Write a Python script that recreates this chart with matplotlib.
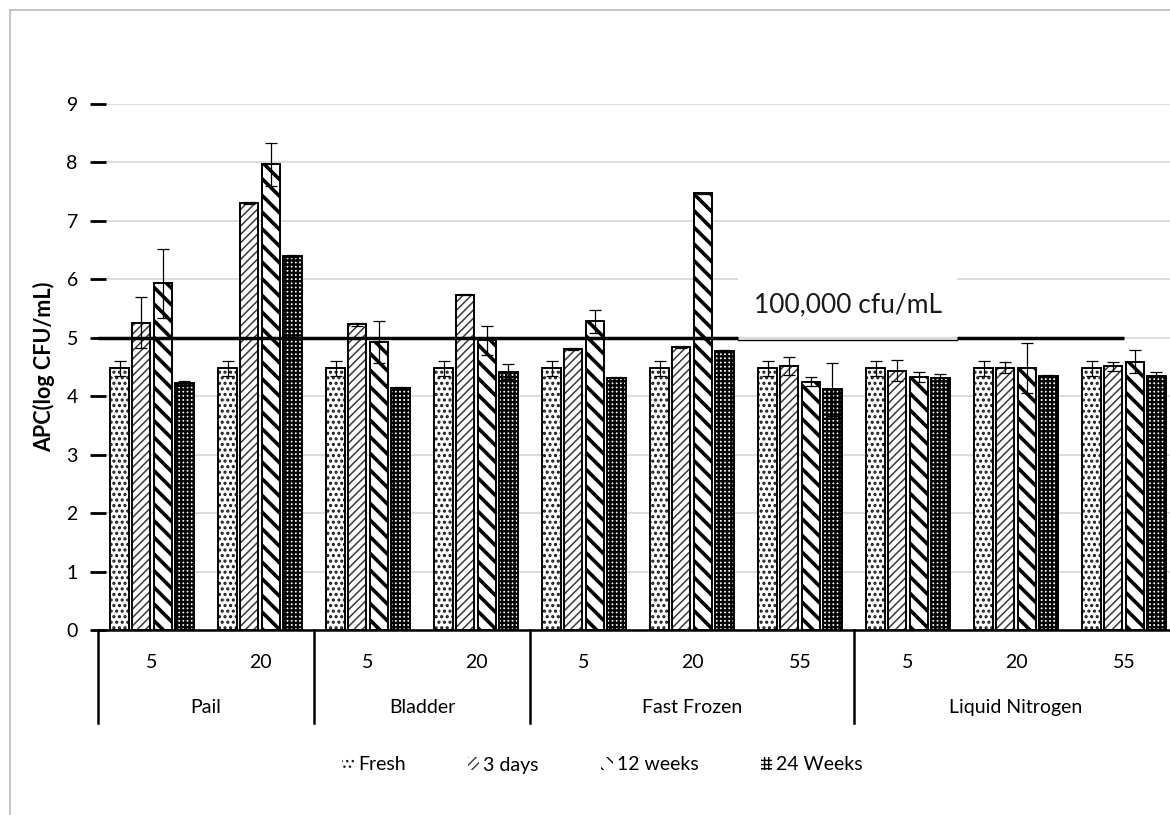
import matplotlib
matplotlib.use('Agg')
import matplotlib.pyplot as plt
from matplotlib.patches import Patch, Rectangle
from matplotlib.lines import Line2D
import matplotlib.transforms as mtransforms

# ---- data ----
sub_labels = ['5', '20', '5', '20', '5', '20', '55', '5', '20', '55']
groups = ['Pail', 'Bladder', 'Fast Frozen', 'Liquid Nitrogen']
group_sizes = [2, 2, 3, 3]
series = ['Fresh', '3 days', '12 weeks', '24 Weeks']

fresh = [4.48, 4.48, 4.48, 4.48, 4.48, 4.48, 4.48, 4.48, 4.48, 4.48]
fresh_err = [0.13, 0.13, 0.13, 0.13, 0.13, 0.13, 0.13, 0.13, 0.13, 0.13]
days3 = [5.26, 7.31, 5.23, 5.74, 4.81, 4.84, 4.52, 4.44, 4.49, 4.51]
days3_err = [0.43, 0.02, 0.02, 0.01, 0.02, 0.02, 0.15, 0.18, 0.09, 0.08]
wk12 = [5.93, 7.97, 4.93, 4.96, 5.28, 7.47, 4.25, 4.33, 4.48, 4.59]
wk12_err = [0.59, 0.37, 0.36, 0.25, 0.19, 0.01, 0.08, 0.09, 0.43, 0.20]
wk24 = [4.22, 6.40, 4.14, 4.42, 4.32, 4.77, 4.12, 4.32, 4.35, 4.35]
wk24_err = [0.04, 0.02, 0.01, 0.13, 0.01, 0.02, 0.45, 0.06, 0.01, 0.07]

limit = 5.0
limit_text = '100,000 cfu/mL'

values = [fresh, days3, wk12, wk24]
errors = [fresh_err, days3_err, wk12_err, wk24_err]
hatches = ['...', '////', '\\\\', '++++']
hatch_cols = ['#1a1a1a', '#3a3a3a', 'black', 'black']
hatch_lws = [1.5, 1.1, 2.6, 1.7]

plt.rcParams['font.family'] = ['Lato', 'DejaVu Sans']

fig = plt.figure(figsize=(11.7, 8.15), dpi=100)
ax = fig.add_axes([98/1170, 1-630/815, 1080/1170, (630-104)/815])

n = len(sub_labels)
xs = list(range(n))
offs = [-0.3, -0.1, 0.1, 0.3]
bw = 0.172

for k in range(4):
    pos = [x + offs[k] for x in xs]
    with plt.rc_context({'hatch.linewidth': hatch_lws[k]}):
        bars = ax.bar(pos, values[k], bw, color='white', edgecolor=hatch_cols[k],
                      hatch=hatches[k], linewidth=0, zorder=2)
    for b in bars:
        if hasattr(b, 'set_hatch_linewidth'):
            b.set_hatch_linewidth(hatch_lws[k])
    ax.bar(pos, values[k], bw, fill=False, edgecolor='black', linewidth=1.4, zorder=3)
    ax.errorbar(pos, values[k], yerr=errors[k], fmt='none', ecolor='black',
                elinewidth=0.9, capsize=4.5, capthick=0.9, zorder=4)

# threshold line, broken by the white label box
ax.plot([-0.5, 5.43], [limit, limit], color='black', lw=2.5, zorder=5, solid_capstyle='butt')
ax.plot([7.45, 9.0], [limit, limit], color='black', lw=2.5, zorder=5, solid_capstyle='butt')
ax.plot([5.43, 7.45], [limit - 0.03, limit - 0.03], color='black', lw=1.0, zorder=5)
ax.add_patch(Rectangle((5.43, limit + 0.02), 2.02, 1.5, facecolor='white',
                       edgecolor='none', zorder=1.5))
ax.text(6.44, 5.56, limit_text, ha='center', va='center', fontsize=19,
        color='#1a1a1a', zorder=6)

ax.set_xlim(-0.5, 9.5)
ax.set_ylim(0, 9)
ax.set_yticks(range(10))
ax.yaxis.grid(True, color='#d9d9d9', lw=1.3, zorder=0)
ax.set_axisbelow(True)
ax.tick_params(axis='y', direction='inout', length=11, width=2, pad=9,
               labelsize=14, colors='black')
ax.set_xticks([])
for s in ['top', 'right', 'left']:
    ax.spines[s].set_visible(False)
ax.spines['bottom'].set_linewidth(1.8)

ax.set_ylabel('APC(log CFU/mL)', fontsize=15.5, fontweight='bold', labelpad=8)

# two-level category axis
trans = mtransforms.blended_transform_factory(ax.transData, ax.transAxes)
bounds = [-0.5]
for gs in group_sizes:
    bounds.append(bounds[-1] + gs)
for b in bounds:
    ax.plot([b, b], [0, -0.177], transform=trans, color='black', lw=1.8, clip_on=False)
for i, lab in enumerate(sub_labels):
    ax.text(i, -0.061, lab, transform=trans, ha='center', va='center', fontsize=14)
for g, lab in enumerate(groups):
    mid = (bounds[g] + bounds[g + 1]) / 2
    ax.text(mid, -0.148, lab, transform=trans, ha='center', va='center', fontsize=14)

handles = [Patch(facecolor='white', edgecolor=hatch_cols[k], hatch=hatches[k], lw=0)
           for k in range(4)]
fig.legend(handles, series, loc='center', bbox_to_anchor=(0.515, 1 - 765/815),
           ncol=4, frameon=False, fontsize=14, handlelength=0.6, handleheight=0.6,
           handletextpad=0.2, columnspacing=3.2)

# chart area border (clipped at right and bottom in the reference)
fig.add_artist(Line2D([10/1170, 10/1170], [0, 1 - 10/815], color='#bfbfbf', lw=1.3))
fig.add_artist(Line2D([10/1170, 1], [1 - 10/815, 1 - 10/815], color='#bfbfbf', lw=1.3))

fig.savefig('out.png', dpi=100)
